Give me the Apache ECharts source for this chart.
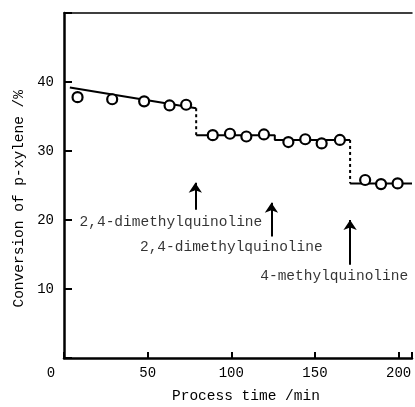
<!DOCTYPE html>
<html>
<head>
<meta charset="utf-8">
<script src="https://cdn.jsdelivr.net/npm/echarts@6/dist/echarts.min.js"></script>
<style>
  html, body { margin: 0; padding: 0; background: #fff; }
  #chart { width: 415px; height: 407px; }
</style>
</head>
<body>
<div id="chart"></div>
<script>
// measured points (circles)
const pointTime = [8.1, 28.8, 47.9, 63.1, 73.0, 88.9, 99.2, 109.0, 119.5, 134.1, 144.2, 154.0, 164.9, 180.0, 189.5, 199.4]
const pointConv = [37.8, 37.5, 37.2, 36.6, 36.7, 32.3, 32.5, 32.1, 32.4, 31.3, 31.7, 31.1, 31.6, 25.8, 25.2, 25.3]

// drawn trend segments
const fitTime1 = [3.5, 79]
const fitConv1 = [39.2, 36.2]
const fitTime2 = [79, 126, 126, 171]
const fitConv2 = [32.3, 32.3, 31.6, 31.6]
const fitTime3 = [171, 208]
const fitConv3 = [25.3, 25.3]
const dropTime = [79, 171]
const dropFrom = [36.2, 31.6]
const dropTo = [32.3, 25.3]

// additive annotations
const additives = ['2,4-dimethylquinoline', '2,4-dimethylquinoline', '4-methylquinoline']
const arrowTime = [78.5, 124, 171]
const arrowBase = [21.5, 17.6, 13.5]
const arrowTip = [25.4, 22.5, 20.0]
const labelTime = [63.9, 100, 161.5]
const labelConv = [19.7, 16.1, 11.8]

const xTicks = [0, 50, 100, 150, 200]
const yTicks = [10, 20, 30, 40]

const font = "'Liberation Mono', 'DejaVu Sans Mono', monospace"
const ink = '#000'

const pairs = (xs, ys) => xs.map((x, i) => [x, ys[i]])

const chart = echarts.init(document.getElementById('chart'))

const lineSeries = (xs, ys, dashed) => ({
  type: 'line',
  data: pairs(xs, ys),
  symbol: 'none',
  silent: true,
  lineStyle: { color: ink, width: 2, type: dashed ? [3, 3] : 'solid' },
  z: 2,
})

const drops = dropTime.map((t, i) => lineSeries([t, t], [dropFrom[i], dropTo[i]], true))

chart.setOption({
  animation: false,
  grid: { left: 64, right: 0, top: 13, bottom: 49 },
  xAxis: [
    {
      type: 'value',
      min: 0,
      max: 208,
      interval: 50,
      axisLine: { lineStyle: { color: ink, width: 2.5 } },
      axisTick: { inside: true, length: 6, lineStyle: { color: ink, width: 2 } },
      splitLine: { show: false },
      axisLabel: {
        color: ink,
        fontFamily: font,
        fontSize: 14,
        margin: 8,
        formatter: (v) => (xTicks.includes(v) ? (v === 0 ? '{z|0}' : String(v)) : ''),
        rich: { z: { fontFamily: font, fontSize: 14, color: ink, padding: [0, 26, 0, 0] } },
      },
    },
    {
      type: 'value',
      position: 'top',
      min: 0,
      max: 208,
      axisLine: { show: true, lineStyle: { color: ink, width: 1.5 } },
      axisTick: { show: false },
      axisLabel: { show: false },
      splitLine: { show: false },
    },
  ],
  yAxis: {
    type: 'value',
    min: 0,
    max: 50,
    interval: 10,
    axisLine: { show: true, lineStyle: { color: ink, width: 2.5 } },
    axisTick: { inside: true, length: 8, lineStyle: { color: ink, width: 2 } },
    splitLine: { show: false },
    axisLabel: {
      color: ink,
      fontFamily: font,
      fontSize: 14,
      margin: 10,
      formatter: (v) => (yTicks.includes(v) ? String(v) : ''),
    },
  },
  graphic: [
    {
      type: 'text',
      left: 12,
      top: 90,
      rotation: Math.PI / 2,
      style: { text: 'Conversion of p-xylene /%', fill: ink, font: '14.5px ' + font },
      originX: 0,
      originY: 0,
    },
    {
      type: 'text',
      left: 172,
      top: 389,
      style: { text: 'Process time /min', fill: ink, font: '14.5px ' + font },
    },
  ],
  series: [
    lineSeries(fitTime1, fitConv1, false),
    lineSeries(fitTime2, fitConv2, false),
    lineSeries(fitTime3, fitConv3, false),
    ...drops,
    {
      type: 'scatter',
      data: pairs(pointTime, pointConv),
      symbol: 'circle',
      symbolSize: 10,
      itemStyle: { color: '#fff', borderColor: ink, borderWidth: 2.2, opacity: 1 },
      z: 3,
    },
    {
      type: 'scatter',
      data: labelTime.map((t, i) => [t, labelConv[i], additives[i]]),
      symbolSize: 0,
      silent: true,
      label: {
        show: true,
        position: 'inside',
        formatter: (p) => p.value[2],
        color: ink,
        fontFamily: font,
        fontSize: 14.5,
      },
      markLine: {
        silent: true,
        symbol: ['none', 'arrow'],
        symbolSize: 10,
        label: { show: false },
        emphasis: { disabled: true },
        lineStyle: { color: ink, width: 2, type: 'solid' },
        data: arrowTime.map((t, i) => [
          { coord: [t, arrowBase[i]] },
          { coord: [t, arrowTip[i]] },
        ]),
      },
    },
  ],
})
</script>
</body>
</html>
